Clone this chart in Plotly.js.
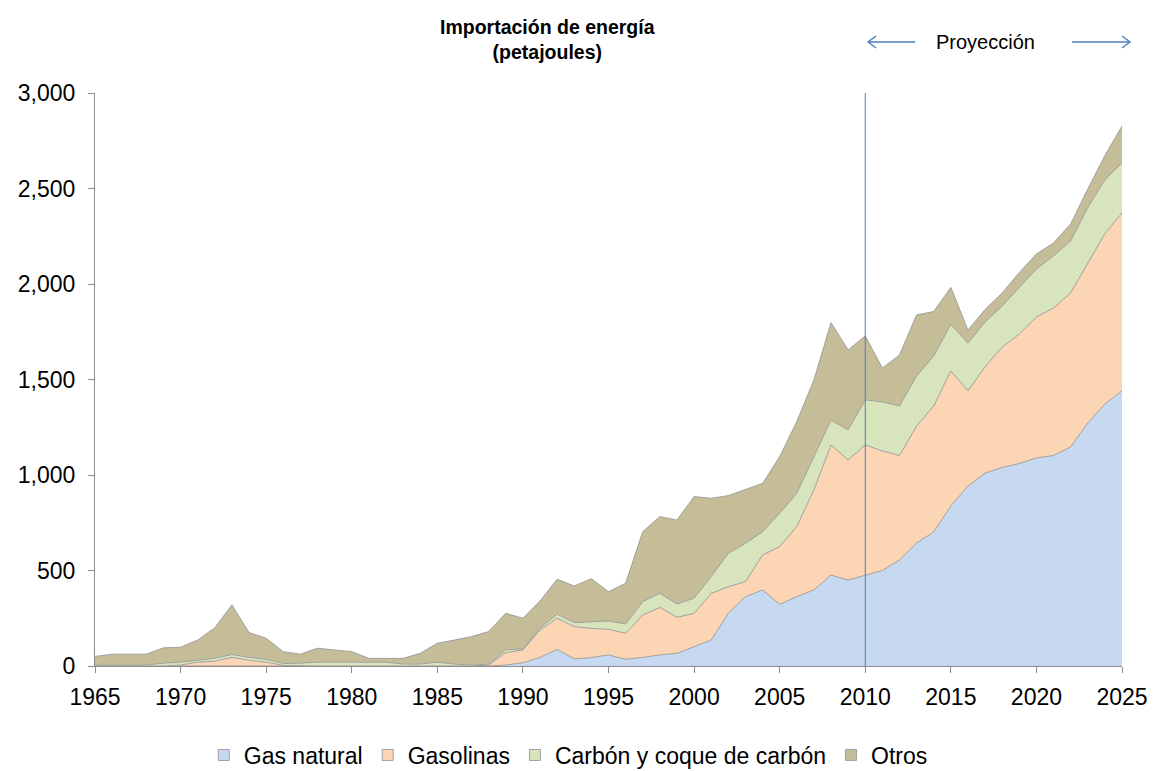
<!DOCTYPE html>
<html>
<head>
<meta charset="utf-8">
<script src="https://cdn.plot.ly/plotly-3.0.1.min.js"></script>
<style>html,body{margin:0;padding:0;background:#fff;}#chart{width:1159px;height:771px;}</style>
</head>
<body>
<div id="chart"></div>
<script>
const years = [1965,1966,1967,1968,1969,1970,1971,1972,1973,1974,1975,1976,1977,1978,1979,1980,
  1981,1982,1983,1984,1985,1986,1987,1988,1989,1990,1991,1992,1993,1994,1995,1996,1997,1998,1999,2000,
  2001,2002,2003,2004,2005,2006,2007,2008,2009,2010,2011,2012,2013,2014,2015,2016,2017,2018,2019,2020,
  2021,2022,2023,2024,2025];

const gasNatural = [0,0,0,0,0,0,0,0,0,0,0,0,0,0,0,0,0,0,0,0,0,0,0,0,
  5,17,45,87,37,44,58,35,45,58,66,100,136,276,363,398,323,363,398,476,450,475,500,555,644,702,838,942,
  1010,1039,1060,1089,1102,1147,1272,1372,1440];

const gasolinas = [0,0,0,0,0,5,20,25,45,30,20,3,0,0,0,0,0,0,0,0,0,0,0,5,
  65,67,143,163,169,153,134,136,222,249,189,175,244,139,79,183,302,367,524,681,629,682,626,547,613,659,
  707,498,556,631,678,738,772,806,838,892,932];

const carbon = [5,5,5,5,15,15,10,15,15,15,15,10,15,20,20,20,20,20,10,10,20,10,5,5,
  15,5,10,21,21,35,44,49,70,74,70,80,88,175,200,122,175,174,174,131,157,236,257,259,261,262,243,251,
  235,215,244,252,273,272,290,281,262];

const otros = [45,57,57,57,80,78,106,160,260,130,110,62,47,73,64,55,20,20,30,56,99,126,149,170,
  191,161,142,183,192,225,153,213,366,401,439,532,410,302,283,253,296,375,401,510,419,335,177,267,320,
  233,194,68,65,68,78,78,68,89,97,127,193];

const seriesNames = ["Gas natural", "Gasolinas", "Carbón y coque de carbón", "Otros"];
const seriesValues = [gasNatural, gasolinas, carbon, otros];
const fills = ["#c6d9f0", "#fcd5b4", "#d8e4bc", "#c4bd97"];

const FONT = "Liberation Sans, Arial, sans-serif";

const areaTraces = seriesValues.map((vals, i) => ({
  type: "scatter",
  mode: "lines",
  x: years,
  y: vals,
  name: seriesNames[i],
  stackgroup: "one",
  fillcolor: fills[i],
  line: {color: "#a0a0a0", width: 1},
  showlegend: false,
  hoverinfo: "x+y+name"
}));

// legend-only entries with square swatches
const legendTraces = seriesNames.map((n, i) => ({
  type: "scatter",
  mode: "markers",
  x: [null], y: [null],
  name: n,
  showlegend: true,
  marker: {symbol: "square", size: 11, color: fills[i], line: {color: "#a0a0a0", width: 1}}
}));

// plot area geometry (pixels)
const L = 94.5, R = 1122, T = 93, B = 666;
const px = v => (v - L) / (R - L);
const py = v => (B - v) / (B - T);
const arrowColor = "#4f81bd";

const shapes = [
  {type: "line", xref: "x", yref: "y", x0: 2010, x1: 2010, y0: 0, y1: 3000,
   line: {color: "#4a7ebb", width: 1}},
  {type: "line", xref: "paper", yref: "paper", x0: px(868), x1: px(915), y0: py(42), y1: py(42),
   line: {color: arrowColor, width: 1.5}},
  {type: "path", xref: "paper", yref: "paper",
   path: `M ${px(876)} ${py(36)} L ${px(868)} ${py(42)} L ${px(876)} ${py(48)}`,
   line: {color: arrowColor, width: 1.5}},
  {type: "line", xref: "paper", yref: "paper", x0: px(1072), x1: px(1130), y0: py(42), y1: py(42),
   line: {color: arrowColor, width: 1.5}},
  {type: "path", xref: "paper", yref: "paper",
   path: `M ${px(1122)} ${py(36)} L ${px(1130)} ${py(42)} L ${px(1122)} ${py(48)}`,
   line: {color: arrowColor, width: 1.5}}
];

const layout = {
  width: 1159, height: 771,
  paper_bgcolor: "#ffffff", plot_bgcolor: "#ffffff",
  margin: {l: L, r: 1159 - R, t: T, b: 771 - B, pad: 0, autoexpand: false},
  font: {family: FONT, color: "#000", size: 23},
  title: {
    text: "<b>Importación de energía<br>(petajoules)</b>",
    font: {family: FONT, size: 19.5, color: "#000"},
    x: px(547), xref: "paper", xanchor: "center",
    y: 1 - 34 / 771, yref: "container", yanchor: "middle"
  },
  showlegend: true,
  legend: {
    orientation: "h", x: px(568), xanchor: "center", y: py(755), yanchor: "middle",
    traceorder: "normal", font: {family: FONT, size: 23, color: "#000"},
    itemwidth: 30, tracegroupgap: 0
  },
  xaxis: {
    range: [1965, 2025], tickmode: "array",
    tickvals: [1965,1970,1975,1980,1985,1990,1995,2000,2005,2010,2015,2020,2025],
    showgrid: false, zeroline: false, showline: true, linecolor: "#8c8c8c", linewidth: 1,
    ticks: "outside", ticklen: 6, tickcolor: "#8c8c8c", ticklabelstandoff: 4,
    tickfont: {family: FONT, size: 23, color: "#000"}
  },
  yaxis: {
    range: [0, 3000], tickmode: "linear", tick0: 0, dtick: 500, tickformat: ",d",
    showgrid: false, zeroline: false, showline: true, linecolor: "#8c8c8c", linewidth: 1,
    ticks: "outside", ticklen: 6, tickcolor: "#8c8c8c", ticklabelstandoff: 8,
    tickfont: {family: FONT, size: 23, color: "#000"}
  },
  shapes: shapes,
  annotations: [
    {text: "Proyección", xref: "paper", yref: "paper", x: px(985), y: py(42),
     xanchor: "center", yanchor: "middle", showarrow: false,
     font: {family: FONT, size: 20, color: "#000"}}
  ]
};

Plotly.newPlot("chart", areaTraces.concat(legendTraces), layout, {displayModeBar: false, staticPlot: true});
</script>
</body>
</html>
